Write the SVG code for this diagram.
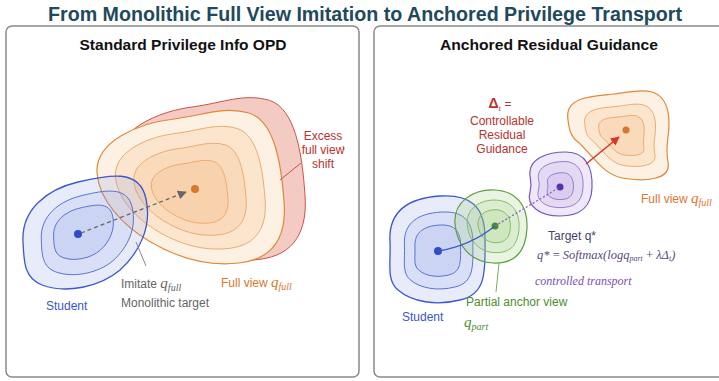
<svg xmlns="http://www.w3.org/2000/svg" xmlns:xlink="http://www.w3.org/1999/xlink" width="719" height="381" viewBox="0 0 719 381">
<style>
.panel{fill:#fff;stroke:#8a8a8a;stroke-width:1.5}
.title{font-family:"Liberation Sans",Arial,sans-serif;font-weight:bold;fill:#1f4a5c}
.head{font-family:"Liberation Sans",Arial,sans-serif;font-weight:bold;fill:#111;font-size:15px}
.t{font-family:"Liberation Sans",Arial,sans-serif;font-size:12px}
.mi{font-family:"Liberation Serif","Times New Roman",serif;font-style:italic}
.gray{fill:#666}
.blue{fill:#3a55cc}
.orange{fill:#d9772e}
.red{fill:#b8322e}
.green{fill:#4a8d2c}
.oOut{fill:#fdf1e3;stroke:#e0883a;stroke-width:1.2}
.oIn{fill:#f4a85c;fill-opacity:0.16;stroke:#ebac70;stroke-width:1}
.rOut{fill:#f4cbc3;stroke:#c9524a;stroke-width:1}
.bOut{fill:#7d98e2;fill-opacity:0.18;stroke:#3d57cc;stroke-width:1.3}
.bIn{fill:#7d98e2;fill-opacity:0.14;stroke:#5a72d2;stroke-width:1}
.gOut{fill:#9ccc7a;fill-opacity:0.22;stroke:#5f9e3e;stroke-width:1.2}
.gIn{fill:#9ccc7a;fill-opacity:0.18;stroke:#86bb66;stroke-width:1}
.pOut{fill:#b295dd;fill-opacity:0.22;stroke:#7a55bf;stroke-width:1.2}
.pIn{fill:#b295dd;fill-opacity:0.18;stroke:#9a7bd0;stroke-width:1}
.lead{fill:none;stroke-width:1}
</style>
<defs>
<path id="bL" vector-effect="non-scaling-stroke" d="M -97 -17 C -99 -49 -55 -67 -20 -71 C 10 -75 30 -84 55 -77 C 80 -69 87 -29 90 11 C 93 46 80 69 45 73 C 10 77 -20 66 -45 51 C -70 36 -95 11 -97 -17 Z"/>
<path id="bB" vector-effect="non-scaling-stroke" d="M -55 8 C -57 -25 -30 -45 0 -52 C 30 -59 62 -66 68 -35 C 74 -8 62 18 42 36 C 22 53 -12 60 -36 51 C -54 44 -54 28 -55 8 Z"/>
<path id="bBR" vector-effect="non-scaling-stroke" d="M -48 -8 C -50 -40 -28 -52 2 -54 C 32 -56 47 -44 47 -12 C 47 18 50 44 22 50 C -2 56 -26 52 -40 40 C -52 30 -47 12 -48 -8 Z"/>
<path id="bG" vector-effect="non-scaling-stroke" d="M -40 -2 C -42 -24 -22 -37 0 -36 C 20 -35 33 -22 32 2 C 31 24 22 38 -2 37 C -24 36 -38 20 -40 -2 Z"/>
<path id="bP" vector-effect="non-scaling-stroke" d="M -30 -10 C -32 -28 -12 -34 6 -34 C 26 -34 33 -18 32 2 C 31 22 20 30 0 30 C -20 30 -34 20 -30 6 C -28 -2 -29 -5 -30 -10 Z"/>
<path id="bO" vector-effect="non-scaling-stroke" d="M -56 -12 C -60 -36 -30 -36 -10 -38 C 10 -40 38 -50 44 -20 C 48 0 40 10 44 30 C 48 48 20 50 -2 46 C -22 42 -34 20 -46 10 C -54 4 -55 -4 -56 -12 Z"/>
<marker id="arGray" viewBox="0 0 10 10" refX="9" refY="5" markerWidth="9" markerHeight="9" markerUnits="userSpaceOnUse" orient="auto"><path d="M0 0 L10 5 L0 10 Z" fill="#666"/></marker>
<marker id="arRed" viewBox="0 0 10 10" refX="9" refY="5" markerWidth="9" markerHeight="9" markerUnits="userSpaceOnUse" orient="auto"><path d="M0 0 L10 5 L0 10 Z" fill="#d8352b"/></marker>
</defs>
<rect width="719" height="381" fill="#fff"/>
<text class="title" x="365" y="21" font-size="20" text-anchor="middle" textLength="634" lengthAdjust="spacingAndGlyphs">From Monolithic Full View Imitation to Anchored Privilege Transport</text>

<g id="panel-left">
<rect class="panel" x="6" y="26" width="353" height="351" rx="6"/>
<text class="head" x="183" y="50" text-anchor="middle" textLength="207" lengthAdjust="spacingAndGlyphs">Standard Privilege Info OPD</text>
</g>
<g id="panel-right">
<rect class="panel" x="374" y="26" width="352" height="351" rx="6"/>
<text class="head" x="549" y="50" text-anchor="middle" textLength="218" lengthAdjust="spacingAndGlyphs">Anchored Residual Guidance</text>
</g>

<g id="excess-shift">
<use href="#bL" class="rOut" transform="translate(214,182) scale(1.01,1.06)"/>
</g>
<g id="full-view-left">
<use href="#bL" class="oOut" transform="translate(194,190)"/>
<use href="#bL" class="oIn" transform="translate(193,190) scale(0.8)"/>
<use href="#bL" class="oIn" transform="translate(192,191) scale(0.6)"/>
<use href="#bL" class="oIn" transform="translate(191,193) scale(0.41)"/>
<circle cx="195" cy="189" r="4" fill="#d9772e"/>
</g>
<g id="student-left">
<use href="#bB" class="bOut" transform="translate(78,234)"/>
<use href="#bB" class="bIn" transform="translate(82,234) scale(0.74)"/>
<use href="#bB" class="bIn" transform="translate(80,233) scale(0.48)"/>
<circle cx="78" cy="234" r="4" fill="#2f4bcc"/>
</g>

<g id="student-right">
<use href="#bBR" class="bOut" transform="translate(438,250)"/>
<use href="#bBR" class="bIn" transform="translate(439,251) scale(0.72)"/>
<use href="#bBR" class="bIn" transform="translate(438,251) scale(0.48)"/>
<circle cx="438" cy="251" r="4" fill="#2f4bcc"/>
</g>
<g id="anchor">
<use href="#bG" class="gOut" transform="translate(495,226)"/>
<use href="#bG" class="gIn" transform="translate(496,226) scale(0.72)"/>
<use href="#bG" class="gIn" transform="translate(496,226) scale(0.45)"/>
<circle cx="495" cy="226" r="3.5" fill="#4a8d2c"/>
</g>
<g id="target">
<use href="#bP" class="pOut" transform="translate(560,186)"/>
<use href="#bP" class="pIn" transform="translate(560,186) scale(0.72)"/>
<use href="#bP" class="pIn" transform="translate(560,187) scale(0.42)"/>
<circle cx="560" cy="187" r="3.5" fill="#5a2fa8"/>
</g>
<g id="full-view-right">
<use href="#bO" class="oOut" transform="translate(624,132)"/>
<use href="#bO" class="oIn" transform="translate(624,133) scale(0.7)"/>
<use href="#bO" class="oIn" transform="translate(624,134) scale(0.45)"/>
<circle cx="626" cy="130" r="3.5" fill="#d9772e"/>
</g>

<g id="connectors">
<path d="M 81 233 L 186 192" fill="none" stroke="#666" stroke-width="1.3" stroke-dasharray="4 3" marker-end="url(#arGray)"/>
<path class="lead" d="M 136 242 L 146 266" stroke="#888"/>
<path class="lead" d="M 301 163 L 280 180" stroke="#c9524a"/>
<path class="lead" d="M 343 146 L 344 150" stroke="#c9524a"/>
<path d="M 438 251 Q 470 246 495 226" fill="none" stroke="#3d57cc" stroke-width="1.3"/>
<path d="M 495 226 L 560 187" fill="none" stroke="#8a60c8" stroke-width="1.3" stroke-dasharray="2 2"/>
<path d="M 586 164 L 619 137" fill="none" stroke="#d8352b" stroke-width="1.5" marker-end="url(#arRed)"/>
<path class="lead" d="M 499 263 L 496 292" stroke="#7aab5a"/>
</g>

<g id="labels-left">
<text class="t gray" x="121" y="288">Imitate <tspan class="mi" font-size="15">q</tspan><tspan class="mi" font-size="10" dy="3">full</tspan></text>
<text class="t gray" x="121" y="307">Monolithic target</text>
<text class="t blue" x="46" y="310">Student</text>
<text class="t orange" x="221" y="287">Full view <tspan class="mi" font-size="15">q</tspan><tspan class="mi" font-size="10" dy="3">full</tspan></text>
<text class="t red" x="323" y="140" text-anchor="middle">Excess</text>
<text class="t red" x="323" y="154" text-anchor="middle">full view</text>
<text class="t red" x="323" y="168" text-anchor="middle">shift</text>
</g>
<g id="labels-right">
<text class="t red" x="500" y="108" text-anchor="middle"><tspan font-weight="bold" font-size="14">Δ</tspan><tspan class="mi" font-size="9" dy="3">t</tspan><tspan dy="-3"> =</tspan></text>
<text class="t red" x="502" y="125" text-anchor="middle">Controllable</text>
<text class="t red" x="502" y="139" text-anchor="middle">Residual</text>
<text class="t red" x="502" y="153" text-anchor="middle">Guidance</text>
<text class="t orange" x="641" y="203">Full view <tspan class="mi" font-size="15">q</tspan><tspan class="mi" font-size="10" dy="3">full</tspan></text>
<text class="t" fill="#4a3f6b" x="548" y="240">Target q*</text>
<text class="mi" fill="#5b4a7d" font-size="12.5" x="537" y="259">q* <tspan font-style="normal">=</tspan> Softmax(logq<tspan font-size="8" dy="2">part</tspan><tspan dy="-2" font-style="normal"> + </tspan>λΔ<tspan font-size="8" dy="2">t</tspan><tspan dy="-2">)</tspan></text>
<text class="mi" fill="#7a4fb5" font-size="12" x="535" y="285">controlled transport</text>
<text class="t green" x="466" y="306">Partial anchor view</text>
<text class="mi green" font-size="15" x="464" y="327">q<tspan font-size="10" dy="3">part</tspan></text>
<text class="t blue" x="402" y="321">Student</text>
</g>
</svg>
